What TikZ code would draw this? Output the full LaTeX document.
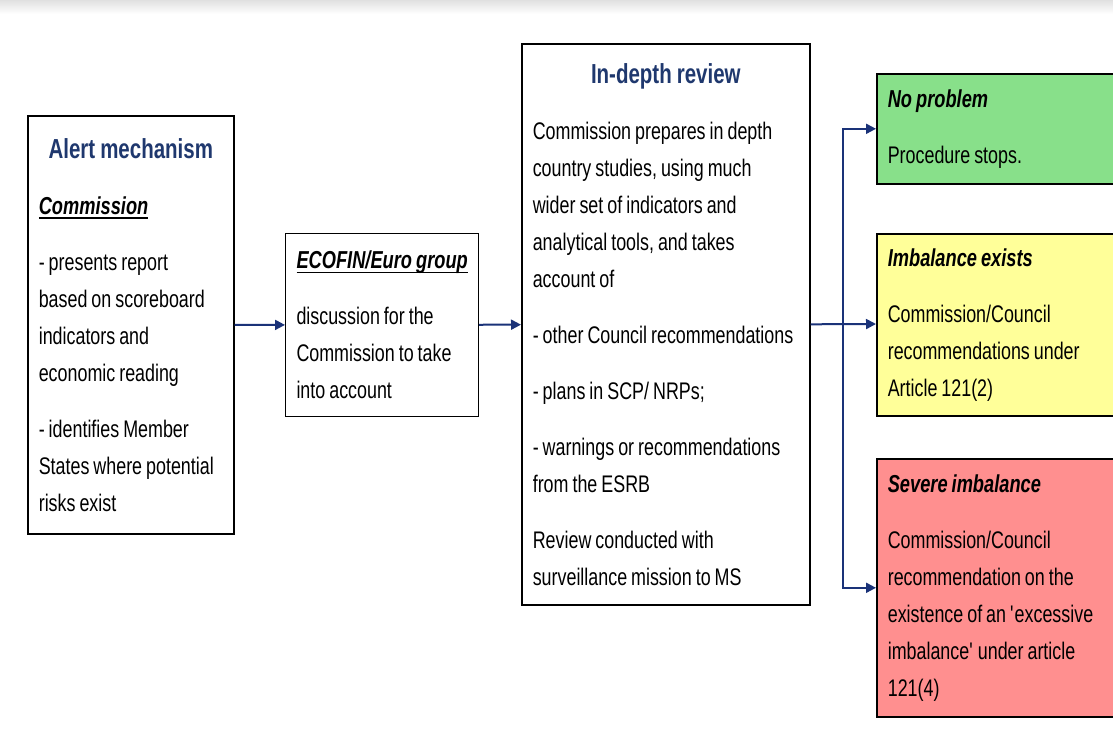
\documentclass[tikz,border=0pt]{standalone}
\usepackage{fontspec}
\setmainfont[FakeStretch=0.745]{Liberation Sans}
\usetikzlibrary{arrows.meta}
\definecolor{mynavy}{RGB}{31,56,110}
\definecolor{myarrow}{RGB}{26,50,120}
\definecolor{mygreen}{RGB}{136,224,138}
\definecolor{myyellow}{RGB}{255,255,153}
\definecolor{myred}{RGB}{255,143,143}
\newcommand{\heading}[1]{{\centering\fontsize{27.5}{30}\selectfont\bfseries\color{mynavy}\spaceskip=5pt #1\par}}
\newcommand{\subhead}[1]{{\fontsize{24.5}{30}\selectfont\bfseries\itshape #1}}
\newcommand{\thickul}[1]{\leavevmode\begingroup\setbox0\hbox{#1}\rlap{\rule[-4.5pt]{\wd0}{1.6pt}}\box0\endgroup}
\newcommand{\widthalert}{184pt}
\newcommand{\widthecofin}{171pt}
\newcommand{\widthreview}{266pt}
\newcommand{\widthoutcome}{222pt}
\tikzset{
    common/.style={anchor=north west, draw, line width=1.6pt, inner xsep=11pt, inner ysep=0pt,
        font=\fontsize{24}{37}\selectfont,
        execute at begin node={\setlength{\parskip}{19pt}\raggedright\spaceskip=4pt plus 1pt minus 1pt},
        },
    stage/.style={common, text width=\widthalert},
    outcome/.style={common, text width=\widthoutcome},
    flow/.style={draw=myarrow, line width=2pt, -{Triangle[length=10pt, width=10pt]}}
}

\begin{document}
\begin{tikzpicture}[x=1pt, y=-1pt]
    \clip (0,0) rectangle (1113,746);
    \fill[white] (0,0) rectangle (1113,746);
    \shade[top color=black!12, bottom color=white] (0,0) rectangle (1113,14);

    \node[stage, minimum height=418pt] (alert) at (27,115) {%
        \heading{Alert mechanism}
        \subhead{\thickul{Commission}}\par
        - presents report\\ based on scoreboard\\ indicators and\\ economic reading\par
        - identifies Member\\ States where potential\\ risks exist};
    \node[stage, text width=\widthecofin, line width=1pt, minimum height=183pt] (ecofin) at (285,233) {%
        \subhead{\thickul{ECOFIN/Euro group}}\par
        discussion for the\\ Commission to take\\ into account};
    \node[stage, text width=\widthreview, minimum height=561pt] (review) at (521,43) {%
        \heading{In-depth review}
        Commission prepares in depth\\ country studies, using much\\ wider set of indicators and\\ analytical tools, and takes\\ account of\par
        - other Council recommendations\par
        - plans in SCP/ NRPs;\par
        - warnings or recommendations\\ from the ESRB\par
        Review conducted with\\ surveillance mission to MS};

    \node[outcome, fill=mygreen, minimum height=110pt] (noprob) at (876,73) {%
        \subhead{No problem}\par
        Procedure stops.};
    \node[outcome, fill=myyellow, minimum height=182pt] (imbal) at (876,233) {%
        \subhead{Imbalance exists}\par
        Commission/Council\\ recommendations under\\ Article 121(2)};
    \node[outcome, fill=myred, minimum height=258pt] (severe) at (876,458) {%
        \subhead{Severe imbalance}\par
        Commission/Council\\ recommendation on the\\ existence of an \textquotesingle excessive\\ imbalance\textquotesingle{} under article\\ 121(4)};

    \coordinate (fork) at (843,324);
    \draw[flow] (alert) -- (ecofin);
    \draw[flow] (ecofin) -- (review);
    \draw[flow] (review.east) -- (fork -| imbal.west);
    \draw[flow] (fork) |- (noprob.west);
    \draw[flow] (fork) |- (severe.west);
\end{tikzpicture}
\end{document}
